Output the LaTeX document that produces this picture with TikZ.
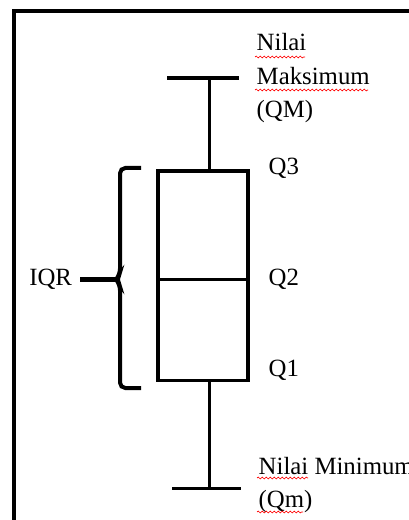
\documentclass[tikz,border=0pt]{standalone}
\usepackage{fontspec}
\setmainfont{Liberation Serif}
\usetikzlibrary{positioning}
\usetikzlibrary{decorations.pathmorphing}

\begin{document}
\begin{tikzpicture}[x=0.75pt, y=-0.75pt, line width=2.6pt,
  box/.style = {draw, minimum width=67.5pt, minimum height=157.1pt, inner sep=0pt},
  lbl/.style = {anchor=base west, inner sep=0pt, font=\fontsize{18.6}{22}\selectfont},
  typo/.style = {red, line width=0.5pt, decorate, decoration={snake, amplitude=0.7pt, segment length=3pt}}]
  \useasboundingbox (0,0) rectangle (409,520);
  \clip (0,0) rectangle (409,520);
  % frame
  \draw[line width=3pt] (13.5,521) -- (13.5,11) -- (410,11);
  % box and median
  \node[box](iqrbox) at (203,275.75) {};
  \coordinate (med) at (158,279.5);
  \draw (med) -- (med -| iqrbox.east);
  % whiskers
  \coordinate (maxl) at (167,78);
  \coordinate (maxr) at (239,78);
  \coordinate (top) at (209.5,78);
  \draw (maxl) -- (maxr);
  \draw (top) -- (top |- iqrbox.north);
  \coordinate (minl) at (172,488.5);
  \coordinate (minr) at (241,488.5);
  \coordinate (bot) at (209.5,488.5);
  \draw (minl) -- (minr);
  \draw (bot |- iqrbox.south) -- (bot);
  % brace
  \coordinate (tip) at (116,279.5);
  \draw[line width=3pt, rounded corners=4pt] (141,168) -- (120,168) -- (120,274) -- (tip) -- (120,285) -- (120,388) -- (141,388);
  \node[anchor=east, inner sep=0pt, outer sep=6pt, font=\fontsize{18.6}{22}\selectfont](iqr) at (80,279.5) {IQR};
  \draw[line width=3.8pt] (iqr.east) -- (tip);
  % labels
  \node[lbl](q3) at (267,175) {Q3};
  \node[lbl](q2) at (267,285) {Q2};
  \node[lbl](q1) at (267,376) {Q1};
  \node[lbl](max1) at (255,51) {Nilai};
  \node[lbl](max2) at (255,85) {Maksimum};
  \node[lbl](max3) at (255,118) {(QM)};
  \node[lbl](min1) at (257,474) {Nilai Minimum};
  \node[lbl](min2) at (257,507) {(Qm)};
  % spelling marks
  \draw[typo] (255,57) -- (305,57);
  \draw[typo] (255,90) -- (368,90);
  \draw[typo] (257,478) -- (308,478);
  \draw[typo] (257,512) -- (303,512);
\end{tikzpicture}
\end{document}
